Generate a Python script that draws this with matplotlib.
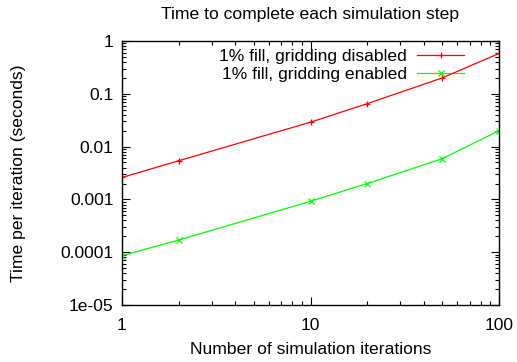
import matplotlib
matplotlib.use("Agg")
import matplotlib.pyplot as plt
from matplotlib.ticker import LogLocator, FixedLocator, NullFormatter

plt.rcParams['font.family'] = ['Liberation Sans', 'DejaVu Sans']

# data
iterations = [1, 2, 10, 20, 50, 100]
time_disabled = [0.0026, 0.0054, 0.029, 0.065, 0.20, 0.58]
time_enabled = [0.000086, 0.00017, 0.00092, 0.0020, 0.0059, 0.020]

y_ticks = [1e-5, 1e-4, 1e-3, 1e-2, 1e-1, 1]
y_labels = ["1e-05", "0.0001", "0.001", "0.01", "0.1", "1"]
x_ticks = [1, 10, 100]
x_labels = ["1", "10", "100"]

FS = 12.6
W, H = 517, 362
fig = plt.figure(figsize=(W / 100, H / 100), dpi=100)
ax = fig.add_axes([122 / W, 1 - 305 / H, (499 - 122) / W, (305 - 41) / H])

ax.plot(iterations, time_disabled, color="#ff0000", lw=0.9, marker="+", ms=5, mew=0.9,
        label="1% fill, gridding disabled")
ax.plot(iterations, time_enabled, color="#00ff00", lw=0.9, marker="x", ms=4, mew=0.9,
        label="1% fill, gridding enabled")

ax.set_xscale("log")
ax.set_yscale("log")
ax.set_xlim(1, 100)
ax.set_ylim(1e-5, 1)

ax.xaxis.set_major_locator(FixedLocator(x_ticks))
ax.set_xticklabels(x_labels)
ax.yaxis.set_major_locator(FixedLocator(y_ticks))
ax.set_yticklabels(y_labels)
ax.xaxis.set_minor_locator(LogLocator(base=10, subs=range(2, 10)))
ax.yaxis.set_minor_locator(LogLocator(base=10, subs=range(2, 10)))
ax.xaxis.set_minor_formatter(NullFormatter())
ax.yaxis.set_minor_formatter(NullFormatter())

ax.tick_params(which="both", direction="in", top=True, right=True, labelsize=FS)
ax.tick_params(which="major", length=6, width=0.8)
ax.tick_params(which="minor", length=3, width=0.8)
ax.tick_params(axis="x", pad=9)
ax.tick_params(axis="y", pad=6)
for s in ax.spines.values():
    s.set_linewidth(1.0)

fig.text(0.5 * (122 + 499) / W, 1 - 14 / H, "Time to complete each simulation step",
         fontsize=FS, ha="center", va="center")
fig.text(0.5 * (122 + 499) / W, 1 - 350 / H, "Number of simulation iterations",
         fontsize=FS, ha="center", va="center")
fig.text(19 / W, 1 - 173 / H, "Time per iteration (seconds)",
         fontsize=FS, ha="center", va="center", rotation=90)

leg = ax.legend(loc="upper right", bbox_to_anchor=((468 - 122) / (499 - 122), 0.985),
                frameon=False, markerfirst=False, fontsize=FS, handlelength=2.7,
                handletextpad=0.6, labelspacing=0.2, borderaxespad=0.0, borderpad=0.2)
leg.set_zorder(1)

fig.savefig("out.png", dpi=100)
